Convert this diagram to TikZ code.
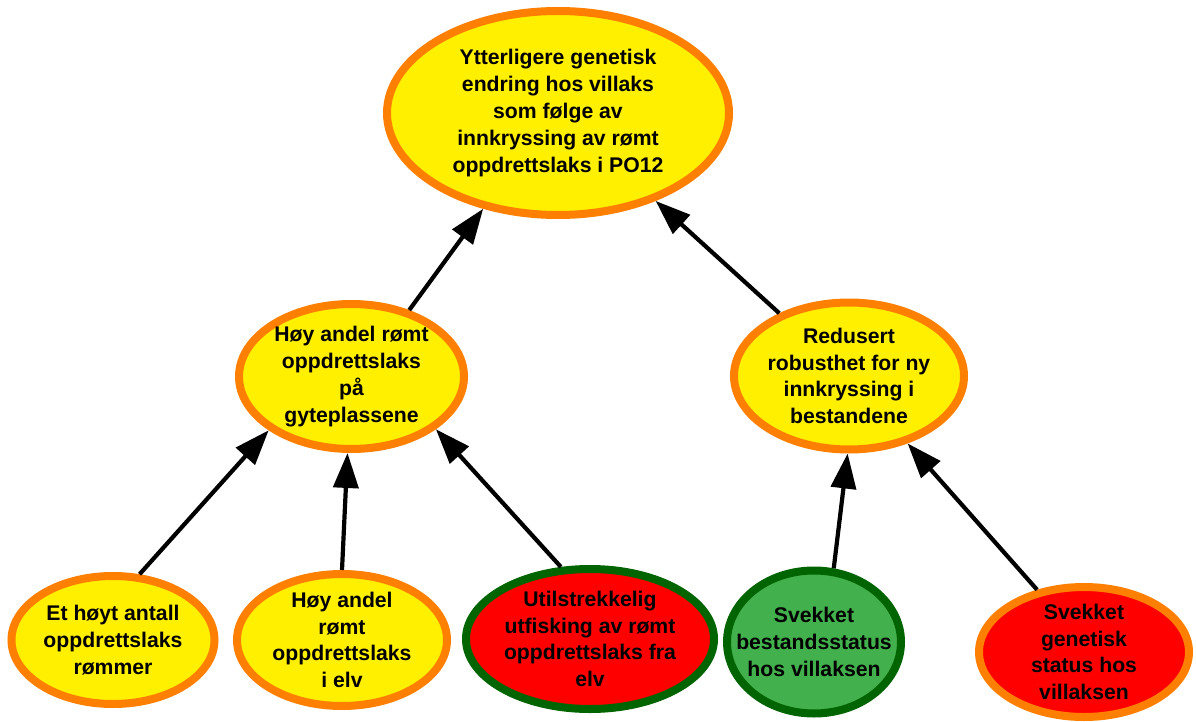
\documentclass[tikz,border=0pt]{standalone}
\usepackage{fontspec}
\setmainfont{Liberation Sans}
\usetikzlibrary{shapes.geometric,arrows.meta}

\definecolor{bubbleyellow}{RGB}{255,240,0}
\definecolor{rimorange}{RGB}{255,128,0}
\definecolor{alarmred}{RGB}{255,0,0}
\definecolor{rimgreen}{RGB}{0,100,0}
\definecolor{softgreen}{RGB}{66,176,76}

\tikzset{
  bubble/.style={ellipse, line width=8pt, outer sep=4pt, inner sep=0pt},
  yellowbubble/.style={bubble, draw=rimorange, fill=bubbleyellow},
  redgreenbubble/.style={bubble, draw=rimgreen, fill=alarmred},
  greenbubble/.style={bubble, draw=rimgreen, fill=softgreen},
  redorangebubble/.style={bubble, draw=rimorange, fill=alarmred},
  bubbletext/.style={align=center, inner sep=0pt,
    font=\fontsize{21.2}{26.8}\selectfont\bfseries},
  cause/.style={line width=4.2pt, -{Triangle[length=35pt,width=25pt]}}
}

\begin{document}
\begin{tikzpicture}[x=1pt,y=-1pt]
  \fill[white] (0,0) rectangle (1196,722);
  \useasboundingbox (0,0) rectangle (1196,722);

  % ellipses
  \node[yellowbubble, minimum width=342pt, minimum height=204pt] (top) at (558,113) {};
  \node[yellowbubble, minimum width=225pt, minimum height=145pt] (midL) at (351.5,376.5) {};
  \node[yellowbubble, minimum width=230pt, minimum height=147pt] (midR) at (849,376) {};
  \node[yellowbubble, minimum width=203pt, minimum height=128pt] (b1) at (113,640) {};
  \node[yellowbubble, minimum width=210pt, minimum height=132pt] (b2) at (342,640) {};
  \node[redgreenbubble, minimum width=248pt, minimum height=140pt] (b3) at (590,639) {};
  \node[greenbubble, minimum width=174pt, minimum height=143pt] (b4) at (814,642) {};
  \node[redorangebubble, minimum width=210pt, minimum height=130pt] (b5) at (1084,652) {};

  % texts
  \node[bubbletext] (top-t) at (top) {Ytterligere genetisk\\endring hos villaks\\som følge av\\innkryssing av rømt\\oppdrettslaks i PO12};
  \node[bubbletext] (midL-t) at (midL) {Høy andel rømt\\oppdrettslaks\\på\\gyteplassene};
  \node[bubbletext] (midR-t) at (midR) {Redusert\\robusthet for ny\\innkryssing i\\bestandene};
  \node[bubbletext] (b1-t) at (b1) {Et høyt antall\\oppdrettslaks\\rømmer};
  \node[bubbletext] (b2-t) at (b2) {Høy andel\\rømt\\oppdrettslaks\\i elv};
  \node[bubbletext] (b3-t) at (b3) {Utilstrekkelig\\utfisking av rømt\\oppdrettslaks fra\\elv};
  \node[bubbletext] (b4-t) at (b4) {Svekket\\bestandsstatus\\hos villaksen};
  \node[bubbletext] (b5-t) at (b5) {Svekket\\genetisk\\status hos\\villaksen};

  % cause arrows
  \draw[cause] (b1.68.3) -- (midL.213.3);
  \draw[cause] (b2.90) -- (midL.267.4);
  \draw[cause] (b3.112.6) -- (midL.328.8);
  \draw[cause] (b4.75.2) -- (midR.269.3);
  \draw[cause] (b5.127.7) -- (midR.311.5);
  \draw[cause] (midL.49.9) -- (top.232.1);
  \draw[cause] (midR.138.4) -- (top.318.4);
\end{tikzpicture}
\end{document}
